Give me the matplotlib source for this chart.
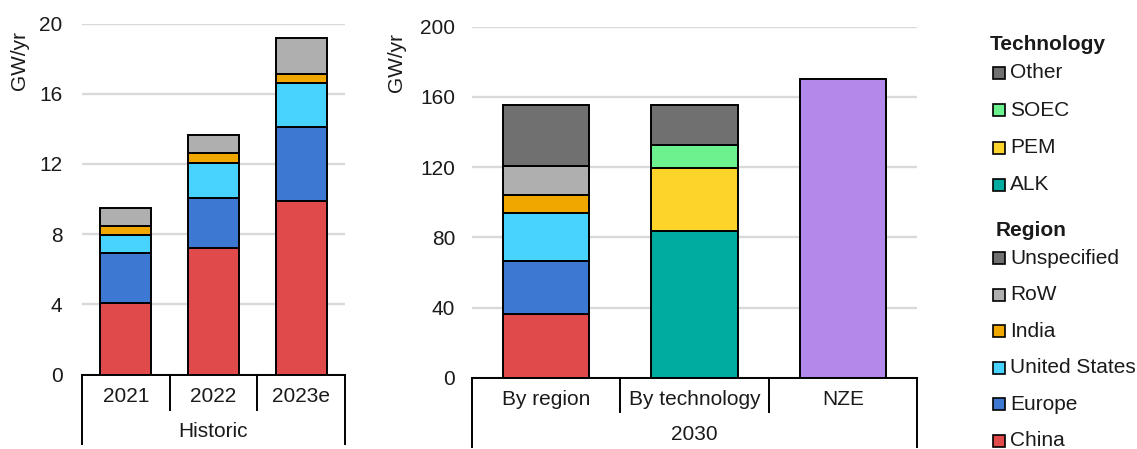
import matplotlib.pyplot as plt
from matplotlib.patches import Rectangle

plt.rcParams['font.family'] = ['Liberation Sans', 'DejaVu Sans']
plt.rcParams['font.size'] = 15
plt.rcParams['text.color'] = '#1A1A1A'
plt.rcParams['ytick.color'] = '#1A1A1A'

# ── Data ──────────────────────────────────────────────────────────────────────
hist_years = ["2021", "2022", "2023e"]
hist_china = [4.05, 7.18, 9.88]
hist_europe = [2.85, 2.85, 4.2]
hist_us = [1.04, 2.03, 2.55]
hist_india = [0.51, 0.54, 0.49]
hist_row = [1.01, 1.02, 2.05]

proj_cats = ["By region", "By technology", "NZE"]
reg_china = 36.1
reg_europe = 30.4
reg_us = 27.2
reg_india = 10.4
reg_row = 16.7
reg_unspec = 34.6
tech_alk = 83.6
tech_pem = 35.7
tech_soec = 13.3
tech_other = 22.8
nze_total = 170

region_labels = ["China", "Europe", "United States", "India", "RoW", "Unspecified"]
region_colors = ["#E04A4A", "#3D78D2", "#48D3FF", "#F0A800", "#AFAFAF", "#707070"]
tech_labels = ["ALK", "PEM", "SOEC", "Other"]
tech_colors = ["#00AC9F", "#FDD42A", "#6BF28F", "#707070"]
nze_color = "#B388EB"

W, H = 1137, 449
fig = plt.figure(figsize=(W / 100, H / 100), dpi=100)

ax1 = fig.add_axes([82 / W, 1 - 374.5 / H, 263 / W, 351 / H])
ax2 = fig.add_axes([472 / W, 1 - 377.7 / H, 445 / W, 351 / H])

edge = dict(edgecolor="black", linewidth=1.4)
BW = 0.58

# ── Left: historic, stacked by region ─────────────────────────────────────────
hist_series = [hist_china, hist_europe, hist_us, hist_india, hist_row]
bottom = [0] * len(hist_years)
for vals, col in zip(hist_series, region_colors):
    ax1.bar(range(len(hist_years)), vals, BW, bottom=bottom, color=col, zorder=3, **edge)
    bottom = [b + v for b, v in zip(bottom, vals)]

# ── Right: 2030 ───────────────────────────────────────────────────────────────
reg_vals = [reg_china, reg_europe, reg_us, reg_india, reg_row, reg_unspec]
b = 0
for v, col in zip(reg_vals, region_colors):
    ax2.bar(0, v, BW, bottom=b, color=col, zorder=3, **edge)
    b += v
tech_vals = [tech_alk, tech_pem, tech_soec, tech_other]
b = 0
for v, col in zip(tech_vals, tech_colors):
    ax2.bar(1, v, BW, bottom=b, color=col, zorder=3, **edge)
    b += v
ax2.bar(2, nze_total, BW, color=nze_color, zorder=3, **edge)


def style(ax, ymax, step, pad, cats, group, inner_px, outer_px, h_px):
    ax.set_ylim(0, ymax)
    ax.set_xlim(-0.5, len(cats) - 0.5)
    ax.set_yticks(range(0, ymax + 1, step))
    ax.tick_params(axis="y", length=0, pad=pad, labelsize=15)
    ax.set_xticks([])
    ax.grid(axis="y", color="#D9D9D9", linewidth=1.7, zorder=0)
    for s in ["top", "right", "left"]:
        ax.spines[s].set_visible(False)
    ax.spines["bottom"].set_linewidth(1.4)
    ax.spines["bottom"].set_zorder(4)
    tr = ax.get_xaxis_transform()
    yin = -inner_px / h_px
    yout = -outer_px / h_px
    n = len(cats)
    for i in range(n + 1):
        x = i - 0.5
        y2 = yout if i in (0, n) else yin
        ax.plot([x, x], [0, y2], color="black", lw=1.4, transform=tr, clip_on=False)
    for i, c in enumerate(cats):
        ax.text(i, -22 / h_px, c, transform=tr, ha="center", va="center", fontsize=15)
    ax.text((n - 1) / 2, -57 / h_px, group, transform=tr, ha="center", va="center", fontsize=15)


style(ax1, 20, 4, 14, hist_years, "Historic", 35, 69, 351)
style(ax2, 200, 40, 12, proj_cats, "2030", 34, 69, 351)

fig.text(20 / W, 1 - 61 / H, "GW/yr", rotation=90, ha="center", va="center", fontsize=15)
fig.text(396 / W, 1 - 63 / H, "GW/yr", rotation=90, ha="center", va="center", fontsize=15)

# ── Legend ────────────────────────────────────────────────────────────────────
def legend_item(label, color, ypx):
    fig.patches.append(Rectangle((993 / W, 1 - (ypx + 6) / H), 12 / W, 12 / H,
                                 transform=fig.transFigure, facecolor=color,
                                 edgecolor="black", linewidth=1.2))
    fig.text(1010 / W, 1 - ypx / H, label, ha="left", va="center", fontsize=15)


fig.text(990 / W, 1 - 45 / H, "Technology", ha="left", va="center", fontsize=15, fontweight="bold")
for i, (lab, col) in enumerate(zip(tech_labels[::-1], tech_colors[::-1])):
    legend_item(lab, col, 73 + i * 37.3)

fig.text(996 / W, 1 - 230 / H, "Region", ha="left", va="center", fontsize=15, fontweight="bold")
for i, (lab, col) in enumerate(zip(region_labels[::-1], region_colors[::-1])):
    legend_item(lab, col, 258 + i * 36.6)

fig.savefig("out.png", dpi=100)
